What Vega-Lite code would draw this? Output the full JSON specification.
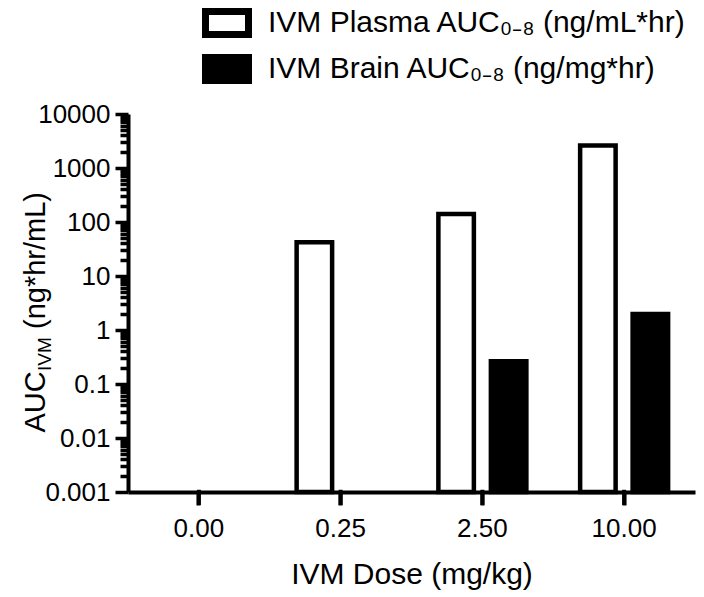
{
  "$schema": "https://vega.github.io/schema/vega-lite/v6.json",
  "width": 567,
  "height": 378,
  "autosize": {"type": "none"},
  "padding": {"left": 128, "top": 114, "right": 9, "bottom": 105},
  "background": "white",
  "config": {
    "view": {"stroke": null},
    "font": "Liberation Sans",
    "axis": {"labelFont": "Liberation Sans", "titleFont": "Liberation Sans", "labelColor": "black", "titleColor": "black", "titleFontWeight": "normal", "domainColor": "black", "grid": false},
    "legend": {"labelFont": "Liberation Sans", "labelColor": "black"}
  },
  "data": {
    "values": [
      {"dose": "0.25", "series": "IVM Plasma AUC₀₋₈ (ng/mL*hr)", "auc": 42},
      {"dose": "2.50", "series": "IVM Plasma AUC₀₋₈ (ng/mL*hr)", "auc": 141},
      {"dose": "10.00", "series": "IVM Plasma AUC₀₋₈ (ng/mL*hr)", "auc": 2600},
      {"dose": "2.50", "series": "IVM Brain AUC₀₋₈ (ng/mg*hr)", "auc": 0.265},
      {"dose": "10.00", "series": "IVM Brain AUC₀₋₈ (ng/mg*hr)", "auc": 1.98}
    ]
  },
  "encoding": {
    "x": {
      "field": "dose", "type": "ordinal",
      "scale": {"domain": ["0.00", "0.25", "2.50", "10.00"], "paddingInner": 0, "paddingOuter": 0},
      "axis": {
        "title": "IVM Dose (mg/kg)", "titleFontSize": 30, "titleY": 91, "titleBaseline": "alphabetic",
        "labelAngle": 0, "labelFontSize": 26, "labelPadding": 10,
        "ticks": true, "tickSize": 13, "tickColor": "#000000", "tickWidth": 4, "domainWidth": 4
      }
    }
  },
  "layer": [
    {
      "mark": {"type": "bar", "stroke": "black", "strokeWidth": 4.5, "strokeJoin": "miter"},
      "encoding": {
        "xOffset": {
          "field": "series", "type": "nominal",
          "scale": {"domain": ["IVM Plasma AUC₀₋₈ (ng/mL*hr)", "IVM Brain AUC₀₋₈ (ng/mg*hr)"], "paddingInner": 0.324, "paddingOuter": 0.512}
        },
        "y": {
          "field": "auc", "type": "quantitative", "stack": null,
          "scale": {"type": "log", "domain": [0.001, 10000], "nice": false},
          "axis": {
            "orient": "left",
            "title": "AUC", "titleX": -84, "titleY": 318, "titleAngle": -90, "titleAlign": "left", "titleBaseline": "alphabetic", "titleFontSize": 29,
            "values": [0.001, 0.002, 0.003, 0.004, 0.005, 0.006, 0.007, 0.008, 0.009, 0.01, 0.02, 0.03, 0.04, 0.05, 0.06, 0.07, 0.08, 0.09, 0.1, 0.2, 0.3, 0.4, 0.5, 0.6, 0.7, 0.8, 0.9, 1, 2, 3, 4, 5, 6, 7, 8, 9, 10, 20, 30, 40, 50, 60, 70, 80, 90, 100, 200, 300, 400, 500, 600, 700, 800, 900, 1000, 2000, 3000, 4000, 5000, 6000, 7000, 8000, 9000, 10000],
            "labelExpr": "abs(log(datum.value)/LN10 - round(log(datum.value)/LN10)) < 1e-6 ? format(datum.value, '~g') : ''",
            "labelOverlap": false, "labelFontSize": 26, "labelPadding": 5, "labelBound": false,
            "tickColor": "black",
            "tickSize": {"condition": {"test": "abs(log(datum.value)/LN10 - round(log(datum.value)/LN10)) < 1e-6", "value": 13}, "value": 8},
            "tickWidth": 3.5, "domainWidth": 4
          }
        },
        "y2": {"datum": 0.001},
        "fill": {
          "field": "series", "type": "nominal",
          "scale": {"domain": ["IVM Plasma AUC₀₋₈ (ng/mL*hr)", "IVM Brain AUC₀₋₈ (ng/mg*hr)"], "range": ["white", "black"]},
          "legend": {
            "title": null, "orient": "none", "legendX": 78.5, "legendY": -111.5, "direction": "vertical",
            "symbolType": "M-1.265,-0.676H1.265V0.676H-1.265Z", "symbolSize": 1156, "symbolStrokeWidth": 7, "symbolStrokeColor": "black", "symbolOpacity": 1,
            "labelFontSize": 30, "labelOffset": 20.5, "labelLimit": 0, "padding": 0, "rowPadding": -8
          }
        }
      }
    },
    {
      "mark": {"type": "bar", "opacity": 0},
      "encoding": {
        "y": {
          "field": "auc", "type": "quantitative", "stack": null,
          "scale": {"type": "log", "domain": [0.001, 10000], "nice": false},
          "axis": {"orient": "left", "title": "IVM", "labels": false, "ticks": false, "domain": false, "titleX": -78, "titleY": 256.5, "titleAngle": -90, "titleAlign": "left", "titleBaseline": "alphabetic", "titleFontSize": 19}
        }
      }
    },
    {
      "mark": {"type": "bar", "opacity": 0},
      "encoding": {
        "y": {
          "field": "auc", "type": "quantitative", "stack": null,
          "scale": {"type": "log", "domain": [0.001, 10000], "nice": false},
          "axis": {"orient": "left", "title": "(ng*hr/mL)", "labels": false, "ticks": false, "domain": false, "titleX": -84, "titleY": 214.5, "titleAngle": -90, "titleAlign": "left", "titleBaseline": "alphabetic", "titleFontSize": 29}
        }
      }
    },
    {
      "data": {"values": [{"dose": "0.00"}, {"dose": "0.25"}, {"dose": "2.50"}, {"dose": "10.00"}]},
      "mark": {"type": "rule", "color": "black", "strokeWidth": 4, "yOffset": 13},
      "encoding": {
        "y": {"datum": 0.001, "type": "quantitative", "scale": {"type": "log", "domain": [0.001, 10000], "nice": false}, "axis": null},
        "y2": {"datum": 0.0011}
      }
    }
  ],
  "resolve": {"axis": {"y": "independent"}}
}
